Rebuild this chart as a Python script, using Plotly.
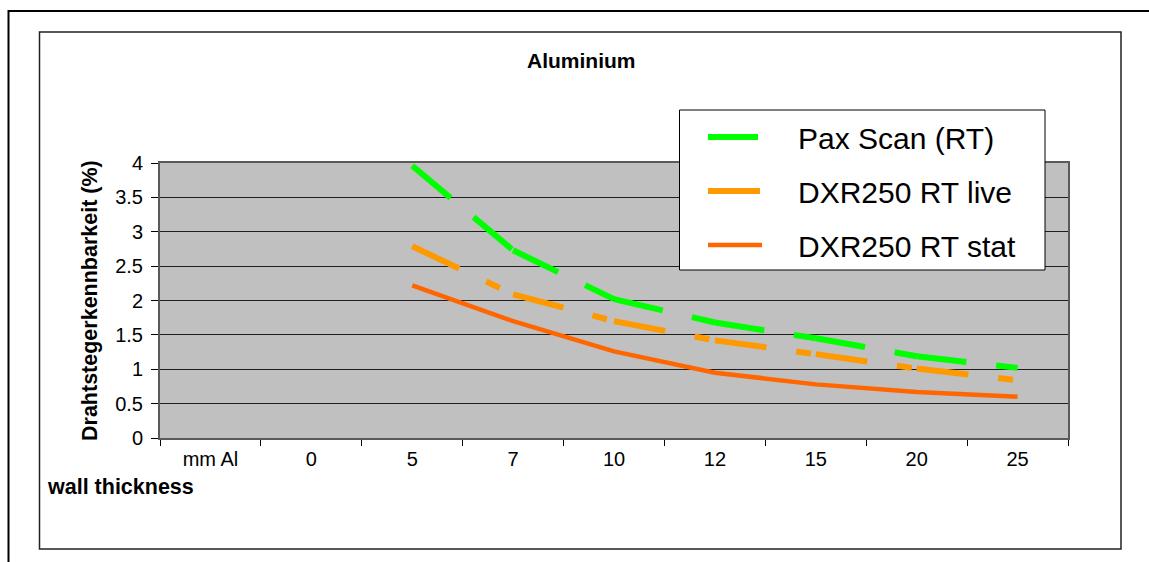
import plotly.graph_objects as go

# ---- data ----
categories = ["mm Al", "0", "5", "7", "10", "12", "15", "20", "25"]
pax_scan = [None, None, 3.96, 2.73, 2.02, 1.68, 1.45, 1.19, 1.02]
dxr_live = [None, None, 2.79, 2.09, 1.70, 1.42, 1.22, 1.01, 0.84]
dxr_stat = [None, None, 2.22, 1.70, 1.26, 0.95, 0.78, 0.67, 0.60]
y_ticks = [0, 0.5, 1, 1.5, 2, 2.5, 3, 3.5, 4]

W, H = 1149, 562
L, R, T, B = 160, 81, 163, 124
PW, PH = W - L - R, H - T - B


def px(x):
    return (x - L) / PW


def py(y):
    return (H - B - y) / PH


FONT = "Liberation Sans, Arial, sans-serif"
PAD = "\u00a0" * 3 + "\u2009"
fig = go.Figure()


def add_dashed(vals, name, color, width, dash):
    first = True
    for i in range(len(categories) - 1):
        if vals[i] is None or vals[i + 1] is None:
            continue
        fig.add_trace(go.Scatter(
            x=[categories[i], categories[i + 1]],
            y=[vals[i], vals[i + 1]],
            mode="lines", name=PAD + name, legendgroup=name,
            showlegend=first, hoverinfo="skip",
            line=dict(color=color, width=width, dash=dash),
        ))
        first = False


add_dashed(pax_scan, "Pax Scan (RT)", "#00FF00", 6, "50px,30px")
add_dashed(dxr_live, "DXR250 RT live", "#FF9900", 6, "52px,30px,15px,20px")
fig.add_trace(go.Scatter(
    x=categories, y=dxr_stat, mode="lines", name=PAD + "DXR250 RT stat",
    legendgroup="DXR250 RT stat",
    line=dict(color="#FF6600", width=4.5),
))

shapes = [
    # outer frame
    dict(type="rect", xref="paper", yref="paper",
         x0=px(8.5), x1=px(1170), y0=py(11), y1=py(580),
         line=dict(color="black", width=2), layer="below"),
    # chart area frame
    dict(type="rect", xref="paper", yref="paper",
         x0=px(39.5), x1=px(1121), y0=py(32), y1=py(549),
         line=dict(color="#222222", width=1.5), layer="below"),
    # legend box
    dict(type="rect", xref="paper", yref="paper",
         x0=px(679.5), x1=px(1045), y0=py(110), y1=py(270),
         fillcolor="white", line=dict(color="black", width=1), layer="above"),
]

annotations = [
    dict(text="<b>Aluminium</b>", xref="paper", yref="paper",
         x=px(581), y=py(60), showarrow=False, xanchor="center", yanchor="middle",
         font=dict(family=FONT, size=21, color="black")),
    dict(text="<b>Drahtstegerkennbarkeit (%)</b>", xref="paper", yref="paper",
         x=px(90), y=py(301), showarrow=False, textangle=-90,
         xanchor="center", yanchor="middle",
         font=dict(family=FONT, size=21.5, color="black")),
    dict(text="<b>wall thickness</b>", xref="paper", yref="paper",
         x=px(45), y=py(487), showarrow=False, xanchor="left", yanchor="middle",
         font=dict(family=FONT, size=21.5, color="black")),
]

fig.update_layout(
    width=W, height=H,
    margin=dict(l=L, r=R, t=T, b=B, pad=0),
    paper_bgcolor="white", plot_bgcolor="#C0C0C0",
    font=dict(family=FONT, size=20, color="black"),
    shapes=shapes, annotations=annotations,
    showlegend=True,
    legend=dict(
        x=px(703), y=py(111), xanchor="left", yanchor="top",
        bgcolor="rgba(0,0,0,0)", borderwidth=0,
        font=dict(family=FONT, size=30, color="black"),
        itemwidth=54, tracegroupgap=12, traceorder="grouped",
    ),
)

fig.update_xaxes(
    type="category", categoryorder="array", categoryarray=categories,
    range=[-0.5, len(categories) - 0.5],
    tickson="boundaries", ticks="outside", ticklen=6, tickcolor="black",
    showgrid=False, zeroline=False,
    showline=True, linecolor="#5a5a5a", linewidth=2, mirror=True,
    tickfont=dict(family=FONT, size=20, color="black"),
    ticklabelstandoff=2,
)
fig.update_yaxes(
    range=[0, 4], tickvals=y_ticks, ticktext=[f"{v:g}" for v in y_ticks],
    ticks="outside", ticklen=7, tickcolor="black",
    showgrid=True, gridcolor="#1e1e1e", gridwidth=1, zeroline=False,
    showline=True, linecolor="#5a5a5a", linewidth=2, mirror=True,
    tickfont=dict(family=FONT, size=20, color="black"),
    ticklabelstandoff=4,
)

fig.write_html("out.html")
